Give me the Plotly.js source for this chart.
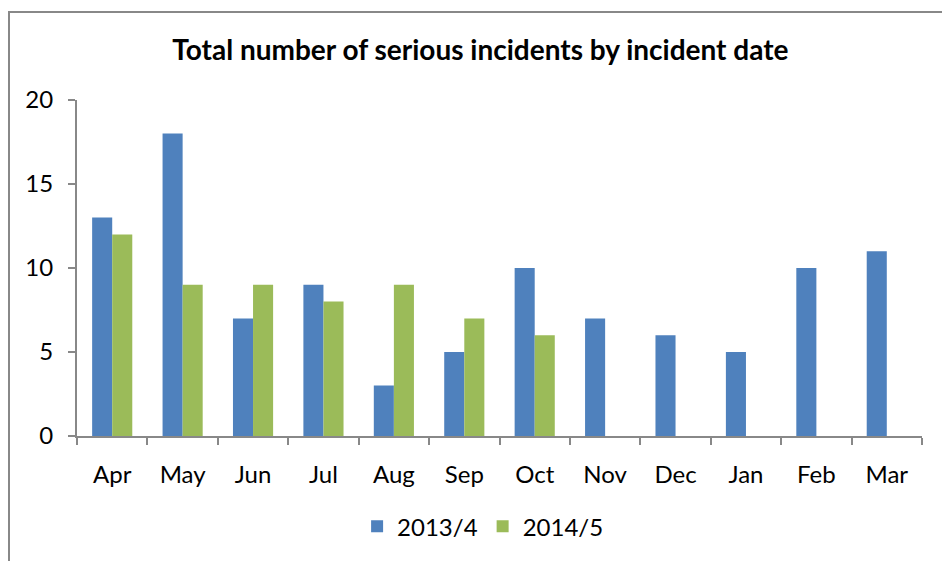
<!DOCTYPE html>
<html><head><meta charset="utf-8">
<script src="https://cdn.plot.ly/plotly-3.0.1.min.js"></script>
<style>
html,body{margin:0;padding:0;width:942px;height:561px;overflow:hidden;background:#fff;}
#frame{position:absolute;left:8px;top:11px;width:1000px;height:600px;border:2px solid #888;box-sizing:border-box;}
#chart{position:absolute;left:0;top:0;width:942px;height:561px;}
</style></head>
<body>
<div id="frame"></div>
<div id="chart"></div>
<script>
const months = ["Apr","May","Jun","Jul","Aug","Sep","Oct","Nov","Dec","Jan","Feb","Mar"];
const series2013 = [13,18,7,9,3,5,10,7,6,5,10,11];
const series2014 = [12,9,9,8,9,7,6,null,null,null,null,null];
const yTicks = [0,5,10,15,20];

const font = "Lato";
const data = [
  {type:"bar", name:"2013/4", x:months, y:series2013, marker:{color:"#4F81BD", line:{width:0}}},
  {type:"bar", name:"2014/5", x:months, y:series2014, marker:{color:"#9BBB59", line:{width:0}}}
];
const layout = {
  width:942, height:561,
  paper_bgcolor:"rgba(0,0,0,0)", plot_bgcolor:"rgba(0,0,0,0)",
  margin:{l:77, r:20, t:100, b:125},
  barmode:"group", bargap:0.43, bargroupgap:0,
  title:{text:"<b>Total number of serious incidents by incident date</b>", x:0.51, xanchor:"center", y:0.91, yanchor:"middle",
    font:{family:font, size:28, color:"#000"}},
  xaxis:{type:"category", tickson:"boundaries", ticks:"outside", ticklen:7, tickwidth:2, tickcolor:"#888",
    showline:true, linecolor:"#888", linewidth:2, showgrid:false, zeroline:false,
    tickfont:{family:font, size:24, color:"#000"}, ticklabelstandoff:16, fixedrange:true},
  yaxis:{range:[0,20], tickvals:yTicks, ticks:"outside", ticklen:7, tickwidth:2, tickcolor:"#888",
    showline:true, linecolor:"#888", linewidth:2, showgrid:false, zeroline:false,
    tickfont:{family:font, size:24, color:"#000"}, ticklabelstandoff:10, fixedrange:true},
  showlegend:true,
  legend:{orientation:"h", x:0.48, xanchor:"center", y:-0.27, yanchor:"middle",
    font:{family:font, size:24, color:"#000"}, itemwidth:30, traceorder:"normal"}
};
Plotly.newPlot("chart", data, layout, {displayModeBar:false, staticPlot:true});
</script>
</body></html>
